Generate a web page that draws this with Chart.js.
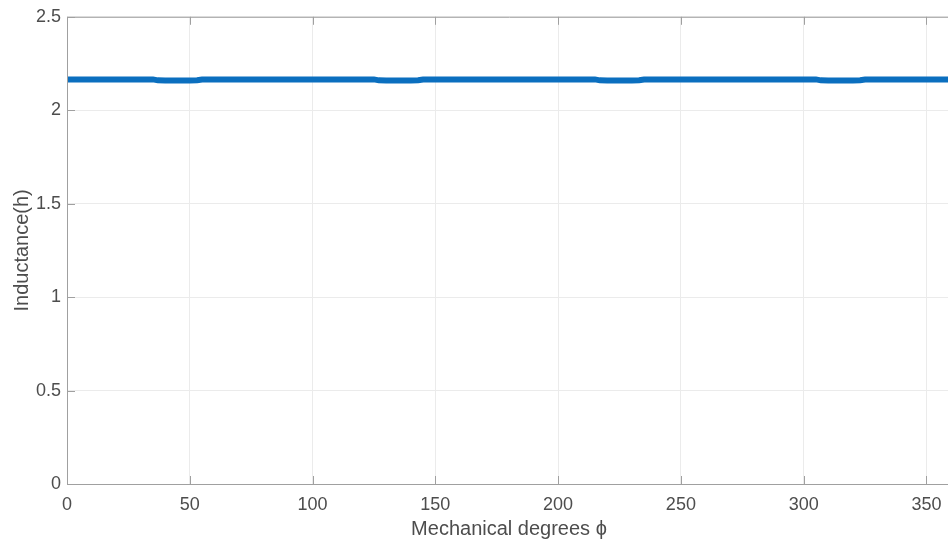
<!DOCTYPE html>
<html><head><meta charset="utf-8">
<script src="https://cdn.jsdelivr.net/npm/chart.js@4/dist/chart.umd.min.js"></script>
<style>
html,body{margin:0;padding:0;background:#fff;overflow:hidden;}
#wrap{width:948px;height:545px;overflow:hidden;position:relative;}
#inner{width:960px;height:545px;position:absolute;left:0;top:0;}
</style></head>
<body><div id="wrap"><div id="inner"><canvas id="c" width="960" height="545"></canvas></div></div>
<script>
const degrees = [0, 10, 20, 30, 35, 37, 40, 45, 50, 53, 55, 60, 80, 100, 120, 125, 127, 130, 135, 140, 143, 145, 150, 170, 190, 210, 215, 217, 220, 225, 230, 233, 235, 240, 260, 280, 300, 305, 307, 310, 315, 320, 323, 325, 330, 350, 360];
const inductance = [2.164, 2.164, 2.164, 2.165, 2.165, 2.160, 2.159, 2.159, 2.159, 2.160, 2.164, 2.164, 2.164, 2.164, 2.164, 2.165, 2.160, 2.159, 2.159, 2.159, 2.160, 2.164, 2.164, 2.164, 2.164, 2.164, 2.165, 2.160, 2.159, 2.159, 2.159, 2.160, 2.164, 2.164, 2.164, 2.164, 2.164, 2.165, 2.160, 2.159, 2.159, 2.159, 2.160, 2.164, 2.164, 2.164, 2.164];
const xTicks = [0, 50, 100, 150, 200, 250, 300, 350];
const yTicks = [0, 0.5, 1, 1.5, 2, 2.5];
const yTickLabels = ['0', '0.5', '1', '1.5', '2', '2.5'];
const xTitle = 'Mechanical degrees \u03D5';
const yTitle = 'Inductance(h)';

const points = degrees.map((d, i) => ({x: d, y: inductance[i]}));
const FONT = 'Liberation Sans, Arial, Helvetica, sans-serif';

const inwardTicks = {
  id: 'inwardTicks',
  afterDraw(chart) {
    const {ctx, chartArea: a, scales: {x, y}} = chart;
    ctx.save();
    ctx.strokeStyle = '#a0a0a0';
    ctx.lineWidth = 1;
    ctx.beginPath();
    xTicks.forEach(v => {
      const px = Math.round(x.getPixelForValue(v)) + 0.5;
      ctx.moveTo(px, a.bottom); ctx.lineTo(px, a.bottom - 8);
      ctx.moveTo(px, a.top); ctx.lineTo(px, a.top + 8);
    });
    yTicks.forEach(v => {
      const py = Math.round(y.getPixelForValue(v)) + 0.5;
      ctx.moveTo(a.left, py); ctx.lineTo(a.left + 8, py);
    });
    ctx.stroke();
    ctx.beginPath();
    ctx.moveTo(a.left + 0.5, a.bottom + 0.5);
    ctx.lineTo(a.left + 0.5, a.top + 0.5);
    ctx.lineTo(a.right + 0.5, a.top + 0.5);
    ctx.moveTo(a.left, a.bottom + 0.5);
    ctx.lineTo(a.right, a.bottom + 0.5);
    ctx.stroke();
    ctx.restore();
  }
};

new Chart(document.getElementById('c'), {
  type: 'line',
  data: {datasets: [{data: points, borderColor: '#0b6fbf', borderWidth: 6, pointRadius: 0, tension: 0, fill: false}]},
  options: {
    responsive: false, animation: false,
    layout: {padding: {top: 16, right: 9, left: 0, bottom: 0}},
    plugins: {legend: {display: false}, tooltip: {enabled: false}},
    scales: {
      x: {
        type: 'linear', min: 0, max: 360,
        afterBuildTicks: s => { s.ticks = xTicks.map(v => ({value: v})); },
        afterFit: s => { s.height = 61; },
        grid: {color: '#ebebeb', drawTicks: false},
        border: {display: false},
        ticks: {color: '#4d4d4d', font: {family: FONT, size: 18}, padding: 10, maxRotation: 0},
        title: {display: true, text: xTitle, color: '#4d4d4d', font: {family: FONT, size: 20}, padding: {top: 0, bottom: 4}}
      },
      y: {
        type: 'linear', min: 0, max: 2.5,
        afterBuildTicks: s => { s.ticks = yTicks.map(v => ({value: v})); },
        afterFit: s => { s.width = 67; },
        grid: {color: '#ebebeb', drawTicks: false},
        border: {display: false},
        ticks: {color: '#4d4d4d', font: {family: FONT, size: 18}, padding: 6,
          callback: (v) => { const i = yTicks.indexOf(v); return i >= 0 ? yTickLabels[i] : ''; }},
        title: {display: true, text: yTitle, color: '#4d4d4d', font: {family: FONT, size: 20}, padding: {top: 10, bottom: 0}}
      }
    }
  },
  plugins: [inwardTicks]
});
</script></body></html>
